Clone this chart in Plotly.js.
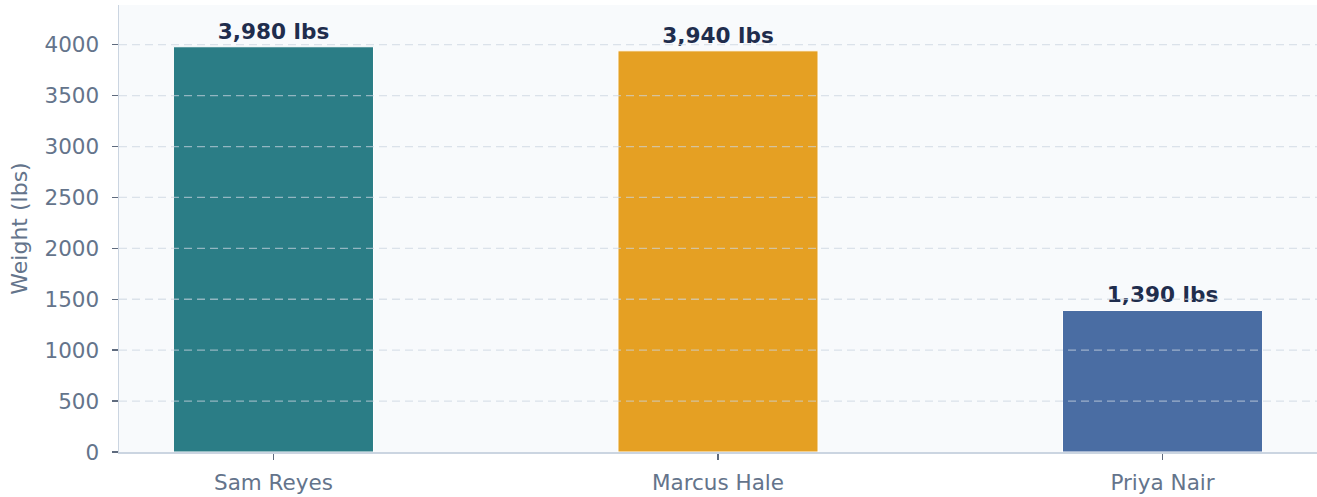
<!DOCTYPE html>
<html>
<head>
<meta charset="utf-8">
<script src="https://cdn.plot.ly/plotly-3.0.1.min.js"></script>
<style>html,body{margin:0;padding:0;background:#fff;}#chart{width:1317px;height:497px;}</style>
</head>
<body>
<div id="chart"></div>
<script>
const athletes = ["Sam Reyes", "Marcus Hale", "Priya Nair"];
const weights = [3980, 3940, 1390];
const barColors = ["#2b7d86", "#e5a023", "#4a6da3"];
const yTicks = [0, 500, 1000, 1500, 2000, 2500, 3000, 3500, 4000];

const gridShapes = yTicks.filter(v => v > 0).map(v => ({
  type: "line", xref: "paper", yref: "y", x0: 0, x1: 1, y0: v, y1: v,
  layer: "above",
  line: {color: "rgba(203,213,225,0.65)", width: 1.3, dash: "8px,5px"}
}));

const trace = {
  type: "bar",
  x: [0, 1, 2],
  y: weights,
  width: 0.45,
  marker: {color: barColors, line: {color: "#ffffff", width: 1}},
  texttemplate: "<b>%{y:,} lbs</b>",
  textposition: "outside",
  cliponaxis: false,
  textfont: {family: "DejaVu Sans", size: 21.6, color: "#1f2d4d"},
  hoverinfo: "skip"
};

const layout = {
  width: 1317, height: 497,
  margin: {l: 119, r: 0, t: 5, b: 45},
  paper_bgcolor: "#ffffff",
  plot_bgcolor: "#f8fafc",
  showlegend: false,
  font: {family: "DejaVu Sans", color: "#64748b", size: 21.5},
  shapes: gridShapes,
  xaxis: {
    range: [-0.3475, 2.3475],
    tickmode: "array", tickvals: [0, 1, 2], ticktext: athletes,
    showgrid: false, zeroline: false,
    showline: true, linecolor: "#cbd5e1", linewidth: 1.5,
    ticks: "outside", ticklen: 6, tickwidth: 1.5, tickcolor: "#5f6b7e",
    tickfont: {family: "DejaVu Sans", size: 21.5, color: "#64748b"},
    ticklabelstandoff: 5,
    fixedrange: true
  },
  yaxis: {
    range: [0, 4390],
    tickmode: "array", tickvals: yTicks,
    showgrid: false, zeroline: false,
    showline: true, linecolor: "#cbd5e1", linewidth: 1.5,
    ticks: "outside", ticklen: 6, tickwidth: 1.5, tickcolor: "#5f6b7e",
    tickfont: {family: "DejaVu Sans", size: 21.5, color: "#64748b"},
    ticklabelstandoff: 8,
    title: {text: "Weight (lbs)", font: {family: "DejaVu Sans", size: 22, color: "#64748b"}, standoff: 11},
    fixedrange: true
  },
  bargap: 0
};

Plotly.newPlot("chart", [trace], layout, {displayModeBar: false, staticPlot: true});
</script>
</body>
</html>
